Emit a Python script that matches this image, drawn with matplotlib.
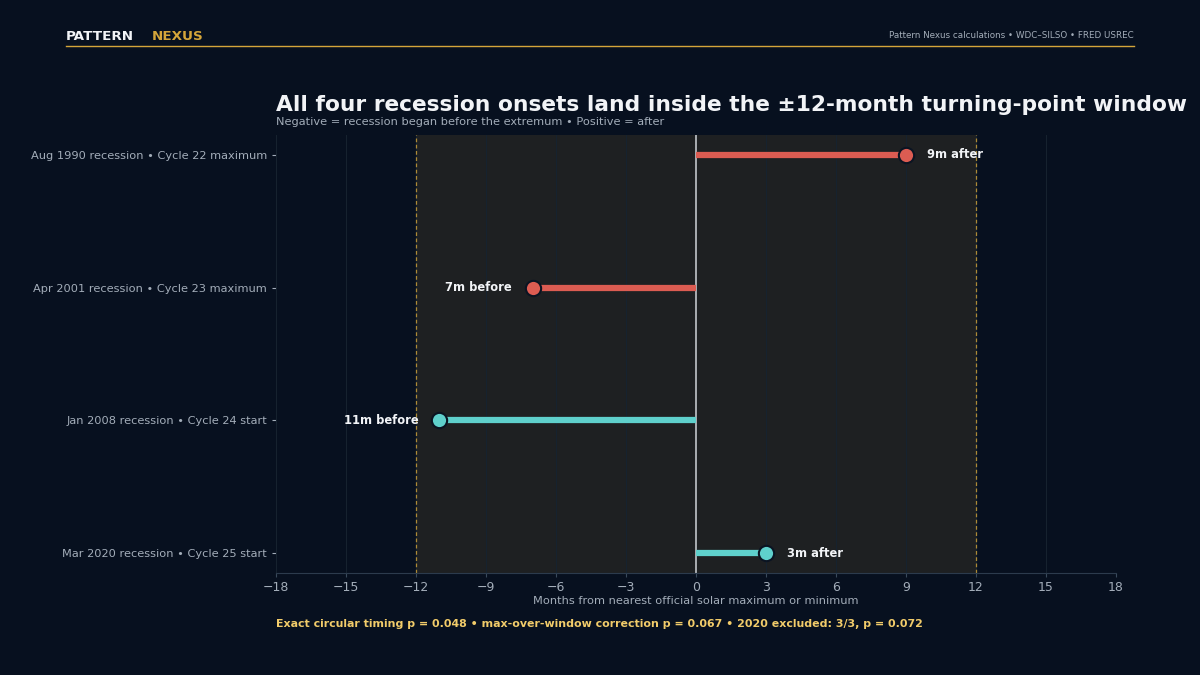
import matplotlib
matplotlib.use("Agg")
import matplotlib.pyplot as plt
import numpy as np

# ── Palette ──────────────────────────────────────────────────────────────────
BG     = "#07101f"
WINDOW = "#1e2022"
TEXT   = "#f2f4f7"
GREY   = "#a3adb9"
GRID   = "#16222f"
GOLD   = "#d4a53a"
FOOT   = "#f2cc6a"
RED    = "#dc5c52"
TEAL   = "#5fd0cc"

# ── Data ─────────────────────────────────────────────────────────────────────
labels = [
    "Aug 1990 recession • Cycle 22 maximum",
    "Apr 2001 recession • Cycle 23 maximum",
    "Jan 2008 recession • Cycle 24 start",
    "Mar 2020 recession • Cycle 25 start",
]
offsets = [9, -7, -11, 3]
kinds = ["max", "max", "min", "min"]
annot = ["9m after", "7m before", "11m before", "3m after"]
ticks = [-18, -15, -12, -9, -6, -3, 0, 3, 6, 9, 12, 15, 18]

fig = plt.figure(figsize=(12, 6.75), dpi=100, facecolor=BG)
ax = fig.add_axes([0.23, 0.151, 0.70, 0.649])
ax.set_facecolor(BG)

ax.axvspan(-12, 12, color=WINDOW, zorder=0, lw=0)
for t in ticks:
    ax.axvline(t, color=GRID, lw=0.8, zorder=0.5)
ax.axvline(-12, color=GOLD, lw=0.9, ls=(0, (3, 2)), alpha=0.8, zorder=1)
ax.axvline(12, color=GOLD, lw=0.9, ls=(0, (3, 2)), alpha=0.8, zorder=1)
ax.axvline(0, color="#b5b8bc", lw=1.3, zorder=2)

y = np.arange(len(labels))
for yi, v, k, txt in zip(y, offsets, kinds, annot):
    c = RED if k == "max" else TEAL
    ax.plot([0, v], [yi, yi], color=c, lw=4.5, solid_capstyle="butt", zorder=3)
    ax.plot(v, yi, "o", ms=11, color=c, mec="#0b1422", mew=1.5, zorder=4)
    if v >= 0:
        ax.text(v + 0.9, yi, txt, ha="left", va="center", color=TEXT,
                fontsize=8.3, fontweight="bold", zorder=5)
    else:
        ax.text(v - 0.9, yi, txt, ha="right", va="center", color=TEXT,
                fontsize=8.3, fontweight="bold", zorder=5)

ax.set_xlim(-18, 18)
ax.set_ylim(3.15, -0.15)
ax.set_xticks(ticks)
ax.set_xticklabels([f"{t}".replace("-", "\u2212") for t in ticks])
ax.set_yticks(y)
ax.set_yticklabels(labels)
ax.tick_params(length=3)
ax.tick_params(axis="x", colors="#3a4a5c", labelcolor=GREY, labelsize=9, pad=3)
ax.tick_params(axis="y", colors=GREY, labelcolor=GREY, labelsize=8.2)
for s in ("top", "right"):
    ax.spines[s].set_visible(False)
ax.spines["left"].set_color(GRID)
ax.spines["bottom"].set_color("#2c3b4d")
ax.set_xlabel("Months from nearest official solar maximum or minimum",
              color=GREY, fontsize=8.2, labelpad=1)

# ── Titles ───────────────────────────────────────────────────────────────────
fig.text(0.23, 0.835, "All four recession onsets land inside the ±12-month turning-point window",
         color=TEXT, fontsize=15.7, fontweight="bold", ha="left", va="baseline")
fig.text(0.23, 0.815, "Negative = recession began before the extremum • Positive = after",
         color=GREY, fontsize=8.2, ha="left", va="baseline")

# ── Header ───────────────────────────────────────────────────────────────────
fig.text(0.055, 0.940, "PATTERN", color=TEXT, fontsize=9.7, fontweight="bold", va="baseline")
fig.text(0.1265, 0.940, "NEXUS", color=GOLD, fontsize=9.7, fontweight="bold", va="baseline")
fig.text(0.945, 0.944, "Pattern Nexus calculations • WDC–SILSO • FRED USREC",
         color=GREY, fontsize=6.3, ha="right", va="baseline")
fig.add_artist(plt.Line2D([0.055, 0.945], [0.932, 0.932], color=GOLD, lw=1,
                          transform=fig.transFigure))

# ── Footer ───────────────────────────────────────────────────────────────────
fig.text(0.23, 0.071,
         "Exact circular timing p = 0.048 • max-over-window correction p = 0.067 • 2020 excluded: 3/3, p = 0.072",
         color=FOOT, fontsize=7.88, fontweight="bold", ha="left", va="baseline")

fig.savefig("out.png", dpi=100, facecolor=BG)
